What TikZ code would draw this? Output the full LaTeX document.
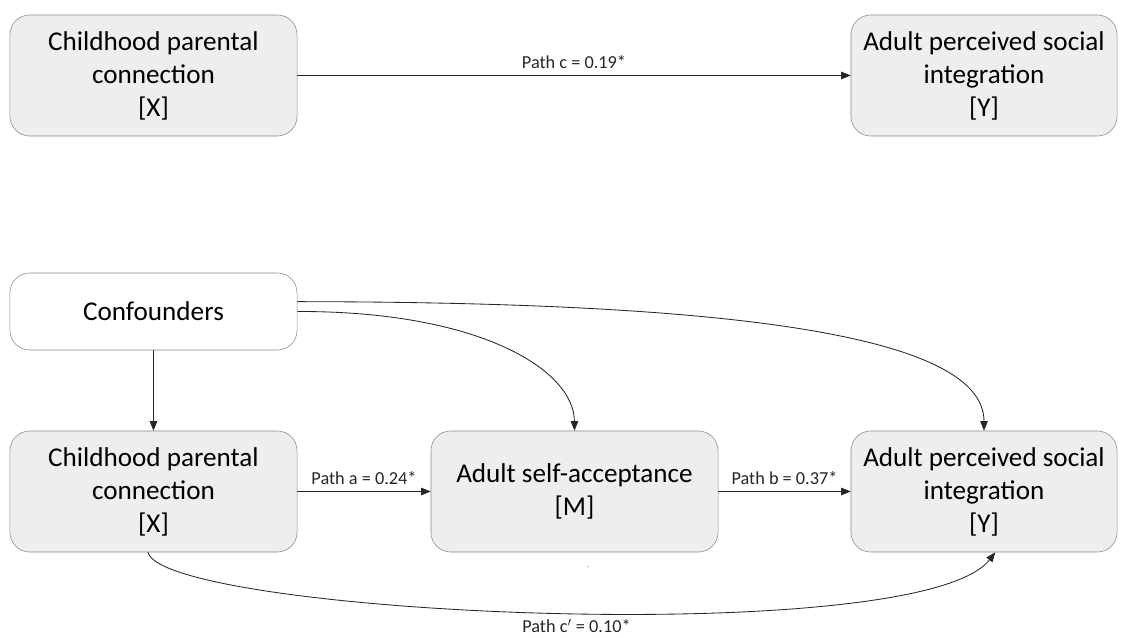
\documentclass[tikz,border=0pt]{standalone}
\usepackage{fontspec}
\setmainfont{Carlito}
\usetikzlibrary{arrows.meta}

\definecolor{boxfill}{HTML}{EEEEEE}
\definecolor{boxline}{HTML}{8A8A8A}

\tikzset{
  varbox/.style={draw=boxline, fill=boxfill, rounded corners=14pt, align=center,
    minimum width=7.175cm, minimum height=3.025cm, inner sep=0pt,
    font=\fontsize{19.3}{23.5}\selectfont},
  confbox/.style={varbox, fill=white, minimum height=1.925cm},
  link/.style={-{Triangle[length=2.4mm,width=1.9mm]}, line width=0.6pt, black!85},
  pathlabel/.style={font=\fontsize{13}{15}\selectfont}
}

\begin{document}
\begin{tikzpicture}[x=0.025cm,y=-0.025cm]
\useasboundingbox (0,0) rectangle (1128,637);
% total effect
\node[varbox] (x1) at (153.5,75.5) {Childhood parental\\connection\\{[X]}};
\node[varbox, minimum width=6.65cm] (y1) at (984,75.5) {Adult perceived social\\integration\\{[Y]}};
\draw[link] (x1) -- node[pathlabel, above=1pt] {Path c = 0.19*} (y1);

% mediation model
\node[confbox] (cf) at (153.5,311.5) {Confounders};
\node[varbox] (x2) at (153.5,491.5) {Childhood parental\\connection\\{[X]}};
\node[varbox] (m) at (574.5,491.5) {Adult self-acceptance\\{[M]}};
\node[varbox, minimum width=6.65cm] (y2) at (984,491.5) {Adult perceived social\\integration\\{[Y]}};
\node[font=\tiny] (dot) at (588,567) {.};

\draw[link] (cf) -- (x2);
\draw[link] ([yshift=7pt]cf.east) .. controls (700,302) and (984,330) .. (y2.north);
\draw[link] (cf.east) .. controls (480,311) and (574,370) .. (m.north);
\draw[link] (x2) -- node[pathlabel, above=1pt] {Path a = 0.24*} (m);
\draw[link] (m) -- node[pathlabel, above=1pt] {Path b = 0.37*} (y2);
\draw[link] ([xshift=-4pt]x2.south) .. controls (165,615) and (920,650)
  .. node[pathlabel, below=1pt, xshift=19pt, pos=0.5] {Path c$'$ = 0.10*} ([xshift=8pt]y2.south);
\end{tikzpicture}
\end{document}
